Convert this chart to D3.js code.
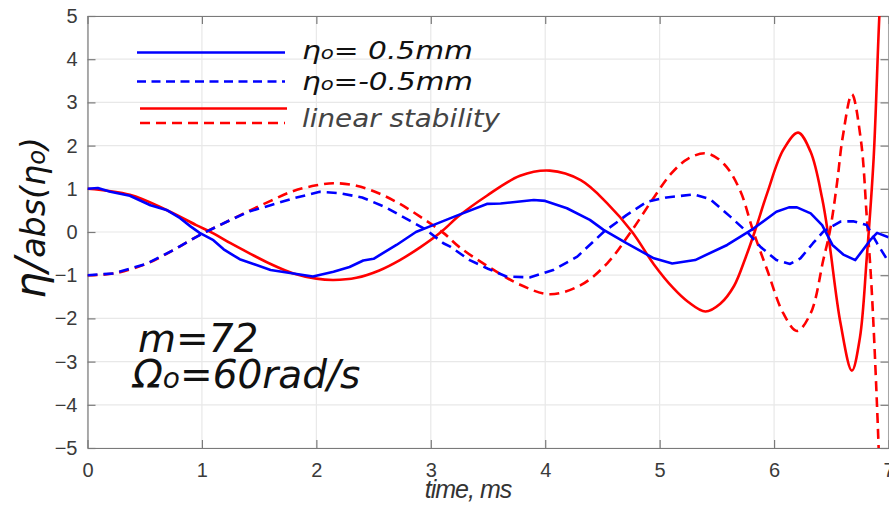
<!DOCTYPE html>
<html>
<head>
<meta charset="utf-8">
<script src="https://cdnjs.cloudflare.com/ajax/libs/d3/7.8.5/d3.min.js"></script>
<style>
  html, body { margin: 0; padding: 0; background: #fff; overflow: hidden; }
  svg { display: block; }
</style>
</head>
<body>
<svg id="chart" width="889" height="506"></svg>
<script>
// eta0 = 0.5mm (blue solid)
var tBlue = [0, 0.09, 0.2, 0.37, 0.55, 0.69, 0.81, 0.9, 0.98, 1.1, 1.19, 1.25, 1.33, 1.6, 1.97, 2.15, 2.29, 2.41, 2.5, 2.7, 2.87, 3.02, 3.2, 3.49, 3.61, 3.9, 4.0, 4.19, 4.39, 4.51, 4.71, 4.95, 5.11, 5.31, 5.59, 5.82, 6.02, 6.13, 6.2, 6.32, 6.42, 6.51, 6.61, 6.71, 6.84, 6.9, 7.0];
var vBlue = [1.0, 1.02, 0.93, 0.84, 0.62, 0.51, 0.32, 0.13, -0.02, -0.19, -0.4, -0.5, -0.63, -0.88, -1.03, -0.92, -0.81, -0.66, -0.62, -0.3, 0.0, 0.16, 0.35, 0.65, 0.66, 0.74, 0.72, 0.55, 0.28, 0.05, -0.26, -0.61, -0.73, -0.65, -0.3, 0.08, 0.47, 0.57, 0.57, 0.43, 0.16, -0.3, -0.53, -0.65, -0.19, -0.02, -0.12];

// eta0 = -0.5mm (blue dashed)
var tBlueNeg = [0, 0.23, 0.52, 0.75, 0.9, 1.01, 1.25, 1.42, 1.6, 1.8, 2.03, 2.2, 2.4, 2.6, 2.73, 2.96, 3.11, 3.17, 3.34, 3.5, 3.66, 3.87, 4.07, 4.28, 4.51, 4.71, 4.89, 5.06, 5.3, 5.44, 5.62, 5.76, 5.88, 6.02, 6.14, 6.23, 6.34, 6.43, 6.58, 6.69, 6.81, 6.9, 7.0];
var vBlueNeg = [-1.0, -0.96, -0.73, -0.42, -0.19, -0.03, 0.28, 0.48, 0.62, 0.78, 0.93, 0.9, 0.8, 0.58, 0.39, 0.05, -0.26, -0.34, -0.65, -0.85, -1.03, -1.05, -0.88, -0.57, 0.0, 0.39, 0.7, 0.8, 0.87, 0.76, 0.35, 0.01, -0.34, -0.65, -0.74, -0.61, -0.26, 0.01, 0.24, 0.25, 0.16, -0.26, -0.69];

// linear stability, +eta0 (red solid)
var tLin = [0, 0.37, 0.69, 0.95, 1.1, 1.25, 1.42, 1.6, 1.8, 2.0, 2.15, 2.35, 2.55, 2.73, 2.91, 3.09, 3.25, 3.49, 3.78, 4.04, 4.31, 4.54, 4.76, 4.95, 5.12, 5.25, 5.4, 5.53, 5.65, 5.75, 5.83, 5.94, 6.08, 6.21, 6.32, 6.42, 6.48, 6.58, 6.68, 6.75, 6.81, 6.87, 6.92, 6.96];
var vLin = [1.0, 0.86, 0.51, 0.16, -0.03, -0.26, -0.5, -0.74, -0.96, -1.08, -1.11, -1.06, -0.89, -0.65, -0.35, 0.0, 0.38, 0.84, 1.3, 1.42, 1.2, 0.67, 0.0, -0.75, -1.3, -1.62, -1.84, -1.66, -1.25, -0.6, 0.0, 0.9, 1.9, 2.3, 1.85, 0.78, -0.19, -2.1, -3.21, -2.45, -0.6, 1.7, 5.0, 7.0];

// linear stability, -eta0 (red dashed)
var tLinNeg = [0, 0.23, 0.52, 0.75, 0.9, 1.01, 1.25, 1.42, 1.6, 1.8, 2.0, 2.15, 2.35, 2.55, 2.73, 2.91, 3.11, 3.25, 3.49, 3.78, 4.04, 4.31, 4.54, 4.74, 4.95, 5.1, 5.25, 5.41, 5.56, 5.7, 5.82, 5.94, 6.08, 6.2, 6.32, 6.43, 6.49, 6.55, 6.6, 6.68, 6.76, 6.81, 6.85, 6.9, 6.94];
var vLinNeg = [-1.0, -0.96, -0.73, -0.42, -0.19, -0.03, 0.28, 0.5, 0.72, 0.95, 1.08, 1.13, 1.07, 0.89, 0.65, 0.35, -0.02, -0.35, -0.78, -1.22, -1.44, -1.23, -0.73, -0.03, 0.8, 1.35, 1.7, 1.82, 1.58, 0.98, 0.0, -0.88, -1.88, -2.29, -1.88, -0.65, 0.05, 1.13, 2.2, 3.19, 2.1, 0.35, -1.19, -4.04, -7.0];

var xTicks = [0, 1, 2, 3, 4, 5, 6, 7];
var yTicks = [-5, -4, -3, -2, -1, 0, 1, 2, 3, 4, 5];

var margin = {top: 16, left: 87.5};
var width = 801;
var height = 432;

var svg = d3.select("#chart");

var x = d3.scaleLinear().domain([0, 7]).range([margin.left, margin.left + width]);
var y = d3.scaleLinear().domain([-5, 5]).range([margin.top + height, margin.top]);

// grid
svg.append("g")
    .selectAll("line")
    .data(xTicks)
    .enter().append("line")
    .attr("x1", d => x(d)).attr("x2", d => x(d))
    .attr("y1", y(-5)).attr("y2", y(5))
    .attr("stroke", "#e8e8e8").attr("stroke-width", 1.2);
svg.append("g")
    .selectAll("line")
    .data(yTicks)
    .enter().append("line")
    .attr("x1", x(0)).attr("x2", x(7))
    .attr("y1", d => y(d)).attr("y2", d => y(d))
    .attr("stroke", "#e8e8e8").attr("stroke-width", 1.2);

// axes (ticks pointing inward, matlab style)
function styleAxis(g) {
    g.select(".domain").attr("stroke", "#7a7a7a").attr("stroke-width", 1.2);
    g.selectAll(".tick line").attr("stroke", "#7a7a7a").attr("stroke-width", 1.2);
    g.selectAll(".tick text")
        .attr("fill", "#3a3a3a")
        .style("font-family", "'Liberation Sans', Arial, sans-serif")
        .style("font-size", "20px");
}

svg.append("g")
    .attr("transform", `translate(0, ${y(-5)})`)
    .call(d3.axisBottom(x).tickValues(xTicks).tickFormat(d3.format("d")).tickSizeInner(-8).tickSizeOuter(0).tickPadding(15))
    .call(styleAxis);

svg.append("g")
    .attr("transform", `translate(${x(0)}, 0)`)
    .call(d3.axisLeft(y).tickValues(yTicks).tickFormat(d3.format("d")).tickSizeInner(-8).tickSizeOuter(0).tickPadding(10))
    .call(styleAxis);

svg.append("g")
    .attr("transform", `translate(0, ${y(5)})`)
    .call(d3.axisTop(x).tickValues(xTicks).tickFormat("").tickSizeInner(-8).tickSizeOuter(0))
    .call(styleAxis);

svg.append("g")
    .attr("transform", `translate(${x(7)}, 0)`)
    .call(d3.axisRight(y).tickValues(yTicks).tickFormat("").tickSizeInner(-8).tickSizeOuter(0))
    .call(styleAxis);

// curves
svg.append("clipPath").attr("id", "plotClip")
    .append("rect")
    .attr("x", x(0)).attr("y", y(5))
    .attr("width", width).attr("height", height);

var plot = svg.append("g").attr("clip-path", "url(#plotClip)");

function pts(ts, vs) { return ts.map((t, i) => [t, vs[i]]); }

var lineLinear = d3.line().x(d => x(d[0])).y(d => y(d[1])).curve(d3.curveLinear);
var lineSmooth = d3.line().x(d => x(d[0])).y(d => y(d[1])).curve(d3.curveCatmullRom.alpha(0.5));

var series = [
    {data: pts(tLinNeg, vLinNeg), color: "#ff0000", dash: "10,6", gen: lineSmooth},
    {data: pts(tLin, vLin), color: "#ff0000", dash: null, gen: lineSmooth},
    {data: pts(tBlueNeg, vBlueNeg), color: "#0000ff", dash: "10,6", gen: lineLinear},
    {data: pts(tBlue, vBlue), color: "#0000ff", dash: null, gen: lineLinear}
];

series.forEach(s => {
    plot.append("path")
        .attr("d", s.gen(s.data))
        .attr("fill", "none")
        .attr("stroke", s.color)
        .attr("stroke-width", 2.6)
        .attr("stroke-linejoin", "round")
        .attr("stroke-dasharray", s.dash);
});

// legend
var legend = svg.append("g");
var legendLines = [
    {x1: 137, x2: 285, y: 52.5, color: "#0000ff", dash: null},
    {x1: 137, x2: 285, y: 81.5, color: "#0000ff", dash: "9,5.5"},
    {x1: 140, x2: 287, y: 108.5, color: "#ff0000", dash: null},
    {x1: 140, x2: 285, y: 123, color: "#ff0000", dash: "10,6"}
];
legendLines.forEach(l => {
    legend.append("line")
        .attr("x1", l.x1).attr("x2", l.x2).attr("y1", l.y).attr("y2", l.y)
        .attr("stroke", l.color).attr("stroke-width", 2.6)
        .attr("stroke-dasharray", l.dash);
});

var italicFont = "'DejaVu Sans', Verdana, sans-serif";

function etaText(g, xx, yy, rest, size, len) {
    var t = g.append("text")
        .attr("x", xx).attr("y", yy)
        .style("font-family", italicFont)
        .style("font-style", "italic")
        .style("font-size", size + "px")
        .attr("fill", "#111");
    t.append("tspan").text("η");
    t.append("tspan").style("font-size", (size * 0.72) + "px").text("o");
    t.append("tspan").text(rest);
    if (len) t.attr("textLength", len).attr("lengthAdjust", "spacingAndGlyphs");
    return t;
}

etaText(legend, 302, 59, "= 0.5mm", 24, 171);
etaText(legend, 302, 89.5, "=-0.5mm", 24, 171);
legend.append("text")
    .attr("x", 302).attr("y", 126.5)
    .style("font-family", italicFont)
    .style("font-style", "italic")
    .style("font-size", "24px")
    .attr("fill", "#444")
    .attr("textLength", 198).attr("lengthAdjust", "spacingAndGlyphs")
    .text("linear stability");

// annotation
svg.append("text")
    .attr("x", 138).attr("y", 351.5)
    .style("font-family", italicFont)
    .style("font-style", "italic")
    .style("font-size", "39px")
    .attr("fill", "#111")
    .text("m=72");

var om = svg.append("text")
    .attr("x", 133).attr("y", 388)
    .style("font-family", italicFont)
    .style("font-style", "italic")
    .style("font-size", "39px")
    .attr("fill", "#111");
om.append("tspan").text("Ω");
om.append("tspan").style("font-size", "28px").text("o");
om.append("tspan").text("=60rad/s");

// axis titles
svg.append("text")
    .attr("x", 468).attr("y", 498)
    .attr("text-anchor", "middle")
    .style("font-family", "'Liberation Sans', Arial, sans-serif")
    .style("font-style", "italic")
    .style("font-size", "25px")
    .style("letter-spacing", "-1px")
    .attr("fill", "#333")
    .text("time, ms");

var yl = svg.append("text")
    .attr("transform", "translate(45, 299) rotate(-90)")
    .style("font-family", italicFont)
    .style("font-style", "italic")
    .attr("fill", "#111")
    .attr("textLength", 162).attr("lengthAdjust", "spacingAndGlyphs");
yl.append("tspan").style("font-size", "42px").text("η/");
yl.append("tspan").style("font-size", "33px").text("abs(η");
yl.append("tspan").style("font-size", "24px").text("o");
yl.append("tspan").style("font-size", "33px").text(")");
</script>
</body>
</html>
